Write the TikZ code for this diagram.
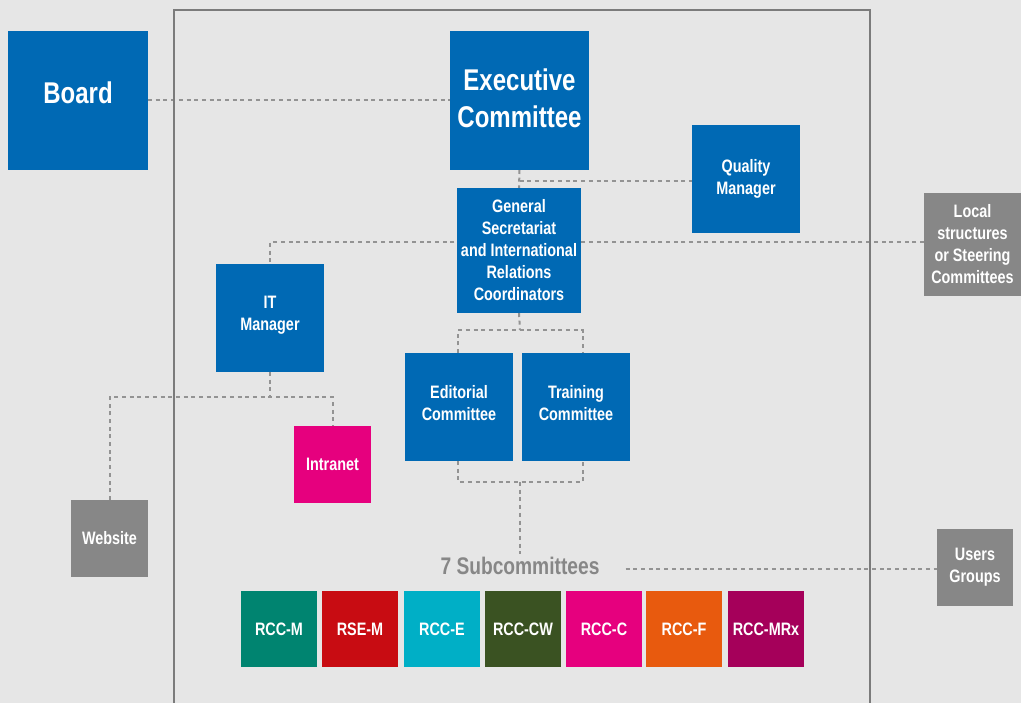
\documentclass[tikz,border=0pt]{standalone}
\usepackage{fontspec}
\setmainfont{Liberation Sans}[FakeStretch=0.8]
\usetikzlibrary{backgrounds}
\definecolor{bg}{HTML}{E6E6E6}
\definecolor{blueA}{HTML}{0069B4}
\definecolor{grayA}{HTML}{878787}
\definecolor{lineA}{HTML}{939393}
\definecolor{frameA}{HTML}{7B7B7B}
\definecolor{cM}{HTML}{008470}
\definecolor{cSE}{HTML}{C80C12}
\definecolor{cE}{HTML}{00AFC6}
\definecolor{cCW}{HTML}{3A5222}
\definecolor{cC}{HTML}{E6007E}
\definecolor{cF}{HTML}{E85A0E}
\definecolor{cMRx}{HTML}{A5005A}
\begin{document}
\begin{tikzpicture}[x=1pt,y=-1pt,
  box/.style={fill=#1, text=white, align=center, inner sep=0pt, outer sep=0pt,
    anchor=north west, font=\bfseries\fontsize{18}{22}\selectfont},
  box/.default=blueA,
  sz/.style 2 args={minimum width=#1pt, minimum height=#2pt},
  big/.style={font=\bfseries\fontsize{30}{37}\selectfont},
  rcc/.style={box=#1, sz={76}{76}},
  conn/.style={draw=lineA, line width=2pt, dash pattern=on 4pt off 3.7pt},
  frame/.style={draw=frameA, line width=2pt}]
\useasboundingbox (0,0) rectangle (1021,703);

% nodes
\node[box, big, sz={140}{139}, text depth=16pt] (board) at (8,31) {Board};
\node[box, big, sz={139}{139}, text depth=5pt] (exec) at (450,31) {Executive\\Committee};
\node[box, sz={108}{108}] (qm) at (692,125) {Quality\\Manager};
\node[box, sz={124}{125}] (gs) at (457,188) {General\\Secretariat\\and International\\Relations\\Coordinators};
\node[box=grayA, sz={97}{103}] (lsc) at (924,193) {Local\\structures\\or Steering\\Committees};
\node[box, sz={108}{108}, text depth=9pt] (it) at (216,264) {IT\\Manager};
\node[box, sz={108}{108}, text depth=9pt] (ec) at (405,353) {Editorial\\Committee};
\node[box, sz={108}{108}, text depth=9pt] (tc) at (522,353) {Training\\Committee};
\node[box=cC, sz={77}{77}] (intra) at (294,426) {Intranet};
\node[box=grayA, sz={77}{77}] (web) at (71,500) {Website};
\node[box=grayA, sz={76}{77}] (ug) at (937,529) {Users\\Groups};
\node[text=grayA, font=\bfseries\fontsize{24}{28}\selectfont, inner sep=0pt] (sub) at (520,566) {7 Subcommittees};

\node[rcc=cM] (r1) at (241,591) {RCC-M};
\node[rcc=cSE] (r2) at (322,591) {RSE-M};
\node[rcc=cE] (r3) at (404,591) {RCC-E};
\node[rcc=cCW] (r4) at (485,591) {RCC-CW};
\node[rcc=cC] (r5) at (566,591) {RCC-C};
\node[rcc=cF] (r6) at (646,591) {RCC-F};
\node[rcc=cMRx] (r7) at (728,591) {RCC-MRx};

% junctions
\coordinate (itj) at (270,397);
\coordinate (gsj) at (520,330);
\coordinate (ctj) at (520,482);

\begin{scope}[on background layer]
\fill[bg] (0,0) rectangle (1021,703);
\draw[conn] (board.east) -- (exec.west);
\draw[conn] (exec.south) -- (gs.north);
\draw[conn] ([yshift=-11pt]exec.south) -- ([yshift=-11pt]exec.south -| qm.west);
\draw[conn] ([yshift=2pt]lsc.west) -| (it.north);
\draw[conn] (it.south) -- (itj);
\draw[conn] (web.north) |- (itj) -| (intra.north);
\draw[conn] (gs.south) -- (gsj);
\draw[conn] ([xshift=-1pt]ec.north) |- (gsj) -| ([xshift=6.5pt]tc.north);
\draw[conn] ([xshift=-1pt]ec.south) |- (ctj) -| ([xshift=6.5pt]tc.south);
\draw[conn] (ctj) -- ([yshift=3pt]sub.north);
\draw[conn, shorten <=26pt] ([yshift=-3pt]sub.east) -- ([yshift=-3pt]sub.east -| ug.west);
\draw[frame] (174,710) -- (174,10) -- (870,10) -- (870,710);
\end{scope}
\end{tikzpicture}
\end{document}
